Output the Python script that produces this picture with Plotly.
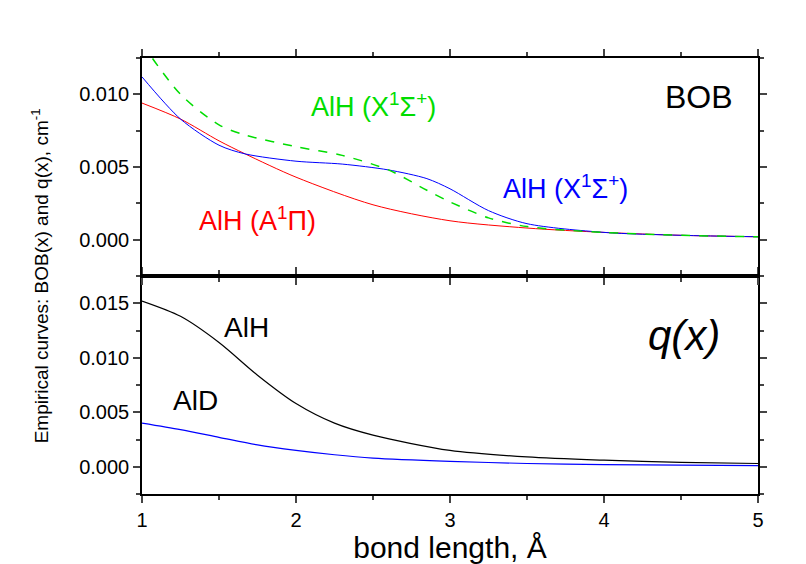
import plotly.graph_objects as go

x_a = [1.0, 1.25, 1.5, 1.67, 2.0, 2.5, 3.0, 3.5, 4.0, 4.5, 5.0]
y_a1pi = [0.0094, 0.0083, 0.0068, 0.0059, 0.0043, 0.0024, 0.0013, 0.0008, 0.0005, 0.0003, 0.0002]
x_x = [1.0, 1.25, 1.5, 1.67, 2.0, 2.3, 2.6, 2.85, 3.0, 3.25, 3.5, 4.0, 4.5, 5.0]
y_x_blue = [0.0112, 0.0083, 0.0065, 0.0059, 0.0054, 0.0052, 0.0048, 0.0042, 0.0035, 0.0020, 0.0011, 0.0005, 0.0003, 0.0002]
y_x_green = [0.0135, 0.0100, 0.0079, 0.0072, 0.0064, 0.0058, 0.0048, 0.0034, 0.0026, 0.0015, 0.0009, 0.0005, 0.0003, 0.0002]
x_q = [1.0, 1.25, 1.5, 1.75, 2.0, 2.25, 2.5, 3.0, 3.5, 4.0, 4.5, 5.0]
q_alh = [0.0152, 0.0138, 0.0114, 0.0084, 0.0058, 0.0040, 0.0029, 0.0015, 0.0009, 0.0006, 0.0004, 0.0003]
q_ald = [0.0040, 0.0034, 0.0027, 0.0020, 0.0015, 0.0011, 0.0008, 0.0005, 0.0003, 0.0002, 0.00015, 0.0001]

fig = go.Figure()
fig.add_trace(go.Scatter(x=x_a, y=y_a1pi, mode="lines", line=dict(color="red", width=1, shape="spline", smoothing=0.8), xaxis="x2", yaxis="y2"))
fig.add_trace(go.Scatter(x=x_x, y=y_x_blue, mode="lines", line=dict(color="blue", width=1, shape="spline", smoothing=0.8), xaxis="x2", yaxis="y2"))
fig.add_trace(go.Scatter(x=x_x, y=y_x_green, mode="lines", line=dict(color="#00dd00", width=1.5, dash="dash", shape="spline", smoothing=0.8), xaxis="x2", yaxis="y2"))
fig.add_trace(go.Scatter(x=x_q, y=q_alh, mode="lines", line=dict(color="black", width=1.2, shape="spline", smoothing=0.8), xaxis="x", yaxis="y"))
fig.add_trace(go.Scatter(x=x_q, y=q_ald, mode="lines", line=dict(color="blue", width=1.2, shape="spline", smoothing=0.8), xaxis="x", yaxis="y"))

ax = dict(showline=True, linecolor="black", linewidth=1.5, mirror="ticks", ticks="outside",
          ticklen=7, tickwidth=1.5, showgrid=False, zeroline=False,
          tickfont=dict(family="Liberation Sans, Arial", size=20, color="black"),
          minor=dict(ticks="outside", ticklen=4, tickwidth=1.5, showgrid=False))
tf = dict(family="Liberation Sans, Arial", color="black")
fig.update_layout(
    width=806, height=564, plot_bgcolor="white", paper_bgcolor="white", showlegend=False,
    margin=dict(l=134, r=56, t=50, b=78),
    xaxis=dict(ax, range=[1, 5], dtick=1, minor=dict(ax["minor"], dtick=0.5), domain=[0, 1], anchor="y",
               title=dict(text="bond length, Å", font=dict(tf, size=30), standoff=6)),
    yaxis=dict(ax, range=[-0.0025, 0.0175], dtick=0.005, tickformat=".3f", minor=dict(ax["minor"], dtick=0.0025), domain=[0, 0.5], anchor="x"),
    xaxis2=dict(ax, range=[1, 5], dtick=1, minor=dict(ax["minor"], dtick=0.5), domain=[0, 1], anchor="y2", showticklabels=False, mirror="ticks"),
    yaxis2=dict(ax, range=[-0.0025, 0.0125], dtick=0.005, tickformat=".3f", minor=dict(ax["minor"], dtick=0.0025), domain=[0.5, 1], anchor="x2"),
    annotations=[
        dict(x=2.5, y=0.0093, xref="x2", yref="y2", text="AlH (X<sup>1</sup>Σ<sup>+</sup>)", showarrow=False, font=dict(tf, size=27, color="#00dd00")),
        dict(x=4.62, y=0.0098, xref="x2", yref="y2", text="BOB", showarrow=False, font=dict(tf, size=32)),
        dict(x=3.75, y=0.0036, xref="x2", yref="y2", text="AlH (X<sup>1</sup>Σ<sup>+</sup>)", showarrow=False, font=dict(tf, size=27, color="blue")),
        dict(x=1.75, y=0.0014, xref="x2", yref="y2", text="AlH (A<sup>1</sup>Π)", showarrow=False, font=dict(tf, size=27, color="red")),
        dict(x=1.68, y=0.0128, xref="x", yref="y", text="AlH", showarrow=False, font=dict(tf, size=28)),
        dict(x=1.35, y=0.0061, xref="x", yref="y", text="AlD", showarrow=False, font=dict(tf, size=28)),
        dict(x=4.52, y=0.0120, xref="x", yref="y", text="<i>q(x)</i>", showarrow=False, font=dict(tf, size=42)),
        dict(x=-0.165, y=0.5, xref="paper", yref="paper", xanchor="center", yanchor="middle", textangle=-90,
             text="Empirical curves: BOB(x) and q(x), cm<sup>-1</sup>", showarrow=False, font=dict(tf, size=19)),
    ],
)
fig.write_html("out.html")
